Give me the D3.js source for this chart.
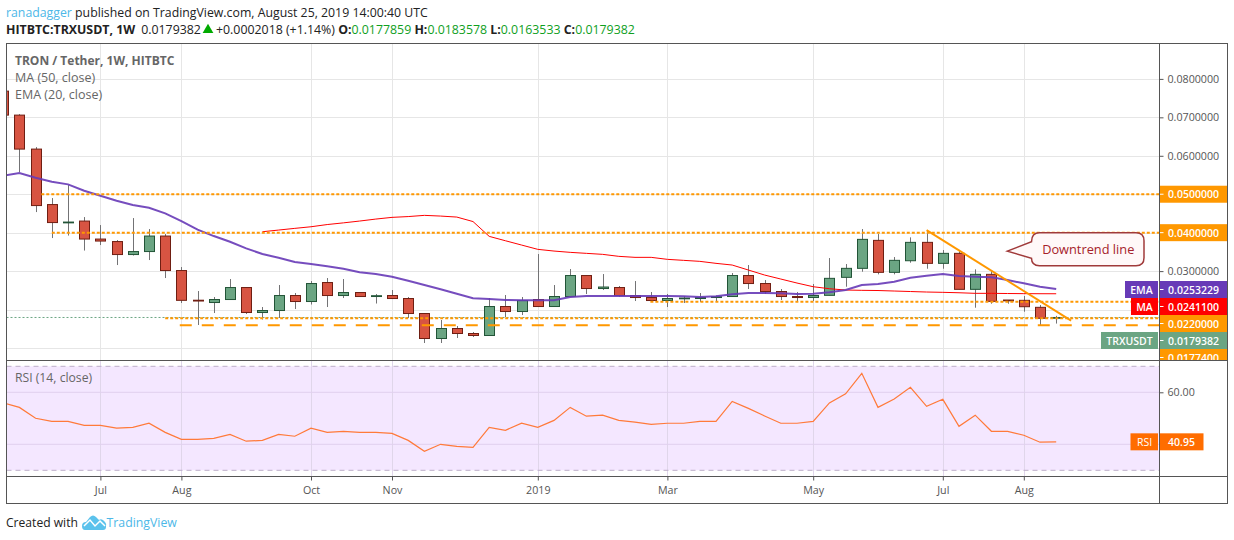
<!DOCTYPE html>
<html>
<head>
<meta charset="utf-8">
<script src="https://cdn.jsdelivr.net/npm/d3@7"></script>
<style>
  html, body { margin: 0; padding: 0; background: #fff; }
  svg { display: block; font-family: "Open Sans", "Noto Sans", sans-serif; }
  .axis path { display: none; }
  .axis line { stroke: #555; }
  .axis text { fill: #555; font-size: 10.7px; font-family: "Open Sans", sans-serif; }
</style>
</head>
<body>
<div id="chart"></div>
<script>
// weekly candles
const opens = [.07682,.07058,.06174,.04731,.04260,.04302,.03834,.03769,.03431,.03509,.03912,.03015,.02243,.02183,.02261,.02573,.01923,.01975,.02365,.02209,.02703,.02365,.02443,.02339,.02365,.02287,.01897,.01247,.01507,.01377,.01325,.02079,.01949,.02261,.02079,.02339,.02885,.02547,.02573,.02365,.02313,.02235,.02282,.02287,.02313,.02339,.02885,.02677,.02469,.02339,.02313,.02370,.02838,.03072,.03800,.02968,.03270,.03748,.03202,.03462,.02526,.02916,.02248,.02240,.02058,.0177859];
const highs = [.07682,.07084,.06226,.04900,.05238,.04406,.04198,.03808,.04380,.04094,.03964,.03106,.02482,.02326,.02794,.02573,.02066,.02638,.02430,.02742,.02820,.02794,.02443,.02404,.02508,.02326,.01910,.01728,.01572,.01416,.02300,.02378,.02326,.03444,.02638,.03054,.02885,.02924,.02612,.02742,.02456,.02404,.02352,.02430,.02365,.02950,.03158,.02768,.02534,.02456,.02664,.03340,.03184,.04094,.03964,.03366,.03878,.04068,.03548,.03548,.03046,.03002,.02248,.02352,.02118,.0183578];
const lows = [.07058,.05576,.04536,.03860,.03925,.03535,.03678,.03158,.03405,.03288,.02820,.02170,.01598,.01910,.02261,.01884,.01741,.01780,.02014,.02131,.02066,.02300,.02339,.02157,.02274,.01780,.01130,.01130,.01260,.01286,.01325,.01806,.01858,.02079,.02079,.02339,.02404,.02508,.02326,.02222,.02222,.02066,.02170,.02196,.02196,.02339,.02534,.02404,.02248,.02196,.02222,.02370,.02594,.02984,.02916,.02916,.03218,.03062,.03062,.02526,.02048,.02152,.02152,.01944,.01598,.0163533];
const closes = [.07058,.06174,.04705,.04263,.04276,.03834,.03782,.03431,.03509,.03912,.03015,.02240,.02222,.02261,.02573,.01923,.01975,.02365,.02209,.02677,.02365,.02443,.02339,.02360,.02287,.01897,.01247,.01507,.01377,.01325,.02079,.01949,.02235,.02079,.02339,.02885,.02547,.02586,.02365,.02313,.02235,.02287,.02300,.02313,.02334,.02885,.02677,.02469,.02339,.02313,.02365,.02812,.03072,.03826,.02968,.03280,.03748,.03202,.03462,.02526,.02916,.02214,.02230,.02074,.0177364,.0179382];

const emaValues = [.05485,.05550,.05428,.05324,.05256,.05090,.04960,.04830,.04718,.04648,.04502,.04302,.04081,.03912,.03764,.03592,.03444,.03348,.03236,.03184,.03124,.03062,.02968,.02924,.02854,.02750,.02638,.02526,.02412,.02292,.02274,.02248,.02240,.02240,.02240,.02326,.02352,.02352,.02352,.02352,.02352,.02352,.02344,.02326,.02344,.02396,.02430,.02430,.02422,.02404,.02410,.02448,.02508,.02638,.02664,.02724,.02828,.02880,.02924,.02872,.02854,.02838,.02768,.02682,.02594,.0253229];
const maValues = [null,null,null,null,null,null,null,null,null,null,null,null,null,null,null,null,.04024,.04068,.04112,.04154,.04211,.04255,.04302,.04354,.04398,.04419,.04450,.04432,.04406,.04289,.03904,.03790,.03678,.03566,.03522,.03488,.03462,.03436,.03384,.03358,.03358,.03306,.03280,.03254,.03202,.03158,.03028,.02898,.02794,.02690,.02594,.02542,.02508,.02500,.02495,.02482,.02469,.02456,.02448,.02437,.02422,.02422,.02417,.02414,.02412,.02411];
const rsiValues = [56,54.2,50,48.8,48.8,47.3,47.3,46.2,46.5,48.1,44.6,41.9,41.9,42.3,43.8,41.2,41.5,43.8,43.1,46.2,44.6,45,44.6,44.6,44.2,41.5,37.3,40,39.2,38.8,46.5,45.4,48.1,46.5,49.2,54.2,50.8,51.2,49.2,48.5,47.7,48.1,48.1,48.8,48.8,56.5,53.8,50.9,48.1,48.1,48.8,55.9,59.4,67.3,54.2,57.4,61.9,54.6,57.3,46.9,51.2,45,45,43.5,40.8,40.95];

const tickWeeks = [6, 11, 19, 24, 33, 41, 50, 58, 63];
const tickLabels = ["Jul", "Aug", "Oct", "Nov", "2019", "Mar", "May", "Jul", "Aug"];
const priceTicks = [0.08, 0.07, 0.06, 0.05, 0.04, 0.03];
const priceGrid = [0.08, 0.07, 0.06, 0.05, 0.04, 0.03, 0.02, 0.01];
const rsiTicks = [60, 40];

// drawn levels: value, first week
const levels = [[0.05, 2.35], [0.04, 3], [0.022, 39.95], [0.01774, 10]];
const dashedLevel = [0.0159, 10.9];
const trendLine = [[57, 0.04068], [65.92, 0.0171]];

const W = 1234, H = 540;
const paneL = 6.5, paneR = 1159.5, outerR = 1227.5, paneT = 43.5, split = 360.5, timeT = 476.5, paneB = 503.5;
const ORANGE = "#ff9800", GREEN = "#6ba583", RED = "#d75442", PURPLE = "#673ab7", RSI_C = "#ff6d00";

const svg = d3.select("#chart").append("svg").attr("width", W).attr("height", H);

const x = d3.scaleLinear().domain([0, 65]).range([3.2, 1056.2]);
const y = d3.scaleLinear().domain([0.01, 0.08]).range([348, 78.9]);
const rsiY = d3.scaleLinear().domain([40, 60]).range([444.3, 392.3]);

const defs = svg.append("defs");
defs.append("clipPath").attr("id", "priceClip").append("rect")
  .attr("x", paneL).attr("y", paneT).attr("width", paneR - paneL).attr("height", split - paneT);
defs.append("clipPath").attr("id", "rsiClip").append("rect")
  .attr("x", paneL).attr("y", split).attr("width", paneR - paneL).attr("height", timeT - split);
defs.append("clipPath").attr("id", "valClip").append("rect")
  .attr("x", paneR).attr("y", paneT).attr("width", outerR - paneR).attr("height", split - paneT);

// --- header ---
const head1 = svg.append("text").attr("x", 6).attr("y", 17).style("font-size", "12.3px").attr("fill", "#222");
head1.append("tspan").attr("fill", "#4db8e8").text("ranadagger");
head1.append("tspan").text(" published on TradingView.com, August 25, 2019 14:00:40 UTC");

const head2 = svg.append("text").attr("x", 6).attr("y", 34).style("font-size", "12.35px").attr("fill", "#222");
head2.append("tspan").style("font-weight", "bold").text("HITBTC:TRXUSDT, 1W");
head2.append("tspan").attr("dx", 6).text("0.0179382");

// up arrow between the price and the change
svg.append("path").attr("d", d3.symbol().type(d3.symbolTriangle).size(50))
  .attr("transform", "translate(208,30)").attr("fill", "#0a0");

const head3 = svg.append("text").attr("x", 216).attr("y", 34).style("font-size", "12.35px").attr("fill", "#222");
head3.append("tspan").text("+0.0002018 (+1.14%) ");
[["O:", "0.0177859"], ["H:", "0.0183578"], ["L:", "0.0163533"], ["C:", "0.0179382"]].forEach((p, i) => {
  head3.append("tspan").style("font-weight", "bold").text((i ? " " : "") + p[0]);
  head3.append("tspan").attr("fill", "#0fa01e").text(p[1]);
});

// --- rsi background ---
svg.append("rect").attr("x", paneL).attr("y", rsiY(70)).attr("width", paneR - paneL)
  .attr("height", rsiY(30) - rsiY(70)).attr("fill", "#f4e7ff");

// --- grid ---
svg.append("g").selectAll("line").data(priceGrid).enter().append("line")
  .attr("x1", paneL).attr("x2", paneR)
  .attr("y1", d => Math.round(y(d)) + 0.5).attr("y2", d => Math.round(y(d)) + 0.5)
  .attr("stroke", "#e6e6e6");
svg.append("g").selectAll("line").data(tickWeeks).enter().append("line")
  .attr("x1", d => Math.round(x(d)) + 0.5).attr("x2", d => Math.round(x(d)) + 0.5)
  .attr("y1", paneT).attr("y2", split).attr("stroke", "#e6e6e6");
svg.append("g").selectAll("line").data(tickWeeks).enter().append("line")
  .attr("x1", d => Math.round(x(d)) + 0.5).attr("x2", d => Math.round(x(d)) + 0.5)
  .attr("y1", split).attr("y2", timeT).attr("stroke", "#e0d6ea");
svg.append("g").selectAll("line").data(rsiTicks).enter().append("line")
  .attr("x1", paneL).attr("x2", paneR)
  .attr("y1", d => rsiY(d)).attr("y2", d => rsiY(d)).attr("stroke", "#e0d0ee");
svg.append("g").selectAll("line").data([70, 30]).enter().append("line")
  .attr("x1", paneL).attr("x2", paneR)
  .attr("y1", d => rsiY(d)).attr("y2", d => rsiY(d))
  .attr("stroke", "#bcaec8").attr("stroke-dasharray", "5,4");

// --- price pane ---
const pane = svg.append("g").attr("clip-path", "url(#priceClip)");

// last price line
pane.append("line").attr("x1", paneL).attr("x2", paneR)
  .attr("y1", y(closes[65])).attr("y2", y(closes[65]))
  .attr("stroke", GREEN).attr("stroke-dasharray", "2,2");

const weeks = d3.range(opens.length);

// wicks
pane.append("g").selectAll("line").data(weeks).enter().append("line")
  .attr("x1", d => Math.round(x(d)) + 0.5).attr("x2", d => Math.round(x(d)) + 0.5)
  .attr("y1", d => y(highs[d])).attr("y2", d => y(lows[d]))
  .attr("stroke", "#737375").attr("stroke-width", 1);

// bodies
pane.append("g").selectAll("rect").data(weeks).enter().append("rect")
  .attr("x", d => Math.round(x(d)) - 4.5)
  .attr("width", 10)
  .attr("y", d => Math.min(y(opens[d]), y(closes[d])))
  .attr("height", d => Math.max(0.8, Math.abs(y(opens[d]) - y(closes[d]))))
  .attr("fill", d => closes[d] >= opens[d] ? GREEN : RED)
  .attr("stroke", d => closes[d] >= opens[d] ? "#225437" : "#6f1e12")
  .attr("stroke-width", 1);

const lineGen = d3.line().defined(d => d[1] != null).x(d => x(d[0])).y(d => y(d[1]));

pane.append("path").datum(weeks.map(i => [i, maValues[i]]))
  .attr("d", lineGen).attr("fill", "none").attr("stroke", "#ff0000").attr("stroke-width", 1);
pane.append("path").datum(weeks.map(i => [i, emaValues[i]]))
  .attr("d", lineGen).attr("fill", "none").attr("stroke", PURPLE).attr("stroke-width", 2).attr("stroke-opacity", 0.9);

// orange levels
pane.append("g").selectAll("line").data(levels).enter().append("line")
  .attr("x1", d => x(d[1])).attr("x2", paneR)
  .attr("y1", d => y(d[0])).attr("y2", d => y(d[0]))
  .attr("stroke", ORANGE).attr("stroke-width", 2).attr("stroke-dasharray", "3,2");
pane.append("line").attr("x1", x(dashedLevel[1])).attr("x2", paneR)
  .attr("y1", y(dashedLevel[0])).attr("y2", y(dashedLevel[0]))
  .attr("stroke", ORANGE).attr("stroke-width", 2).attr("stroke-dasharray", "12,10");

// downtrend line
pane.append("path").datum(trendLine)
  .attr("d", lineGen).attr("fill", "none").attr("stroke", ORANGE).attr("stroke-width", 2);

// callout
const co = { l: 1031.5, r: 1144, t: 232.7, b: 265.7, rad: 8, tipX: x(61.8) + 3, tipY: y(0.0352) };
pane.append("path")
  .attr("d", `M${co.l + co.rad},${co.t} H${co.r - co.rad} Q${co.r},${co.t} ${co.r},${co.t + co.rad}
    V${co.b - co.rad} Q${co.r},${co.b} ${co.r - co.rad},${co.b} H${co.l + co.rad} Q${co.l},${co.b} ${co.l},${co.b - 7.4}
    L${co.tipX},${co.tipY} L${co.l},${co.t + 9} Q${co.l},${co.t} ${co.l + co.rad},${co.t} Z`)
  .attr("fill", "#fff8f8").attr("stroke", "#a03a3a").attr("stroke-width", 1.5);
pane.append("text").attr("x", (co.l + co.r) / 2 + 0.5).attr("y", 253.5)
  .attr("text-anchor", "middle").attr("fill", "#a5222a").style("font-size", "12.8px")
  .text("Downtrend line");

// pane legends
const legend = [["TRON / Tether, 1W, HITBTC", 65, true], ["MA (50, close)", 82, false], ["EMA (20, close)", 99, false]];
svg.append("g").selectAll("text").data(legend).enter().append("text")
  .attr("x", 15).attr("y", d => d[1]).attr("fill", "#666")
  .style("font-size", d => d[2] ? "12px" : "12.5px").style("font-weight", d => d[2] ? "bold" : "normal")
  .text(d => d[0]);
svg.append("text").attr("x", 15).attr("y", 382).attr("fill", "#666").style("font-size", "12.2px").text("RSI (14, close)");

// rsi line
svg.append("g").attr("clip-path", "url(#rsiClip)").append("path").datum(rsiValues)
  .attr("d", d3.line().x((d, i) => x(i)).y(d => rsiY(d)))
  .attr("fill", "none").attr("stroke", "#ff7a3a").attr("stroke-width", 1.2);

// --- axes ---
const axisR = d3.axisRight(y).tickValues(priceTicks).tickSize(4).tickPadding(4).tickFormat(d => d.toFixed(7));
svg.append("g").attr("class", "axis").attr("transform", `translate(${paneR},0)`).call(axisR);
const axisRsi = d3.axisRight(rsiY).tickValues([60]).tickSize(4).tickPadding(4).tickFormat(d => d.toFixed(2));
svg.append("g").attr("class", "axis").attr("transform", `translate(${paneR},0)`).call(axisRsi);
const axisB = d3.axisBottom(x).tickValues(tickWeeks).tickSize(4).tickPadding(6).tickFormat((d, i) => tickLabels[i]);
svg.append("g").attr("class", "axis").attr("transform", `translate(0,${timeT})`).call(axisB);

// --- right side value tags ---
const rowH = 17;
const tags = [
  { v: "0.0500000", c: ORANGE, at: y(0.05) },
  { v: "0.0400000", c: ORANGE, at: y(0.04) },
  { v: "0.0253229", c: PURPLE, at: 289.5, name: "EMA", w: 33 },
  { v: "0.0241100", c: "#ff0000", at: 289.5 + rowH, name: "MA", w: 27 },
  { v: "0.0220000", c: ORANGE, at: 289.5 + rowH * 2 },
  { v: "0.0179382", c: GREEN, at: 289.5 + rowH * 3, name: "TRXUSDT", w: 57 },
  { v: "0.0177400", c: ORANGE, at: 289.5 + rowH * 4 }
];
const tagG = svg.append("g").attr("clip-path", "url(#valClip)");
const nameG = svg.append("g");
tags.forEach(t => {
  tagG.append("rect").attr("x", paneR + 0.5).attr("y", t.at - rowH / 2)
    .attr("width", outerR - paneR).attr("height", rowH).attr("fill", t.c);
  tagG.append("text").attr("x", 1168).attr("y", t.at + 4).attr("fill", "#fff")
    .style("font-size", "10.5px").style("font-weight", "600").text(t.v);
  tagG.append("line").attr("x1", paneR).attr("x2", paneR + 4).attr("y1", t.at).attr("y2", t.at).attr("stroke", "#fff");
  if (t.name) {
    nameG.append("rect").attr("x", paneR - 1.5 - t.w).attr("y", t.at - rowH / 2)
      .attr("width", t.w).attr("height", rowH).attr("fill", t.c);
    nameG.append("text").attr("x", paneR - 1.5 - t.w / 2).attr("y", t.at + 4).attr("fill", "#fff")
      .attr("text-anchor", "middle").style("font-size", "10.5px").style("font-weight", "600").text(t.name);
  }
});

// rsi tag
const rsiAt = rsiY(rsiValues[65]);
svg.append("rect").attr("x", paneR - 29).attr("y", rsiAt - rowH / 2).attr("width", 27.5).attr("height", rowH).attr("fill", RSI_C);
svg.append("text").attr("x", paneR - 15).attr("y", rsiAt + 4).attr("text-anchor", "middle").attr("fill", "#fff").style("font-size", "10.5px").text("RSI");
svg.append("rect").attr("x", paneR + 0.5).attr("y", rsiAt - rowH / 2).attr("width", 43.5).attr("height", rowH).attr("fill", RSI_C);
svg.append("text").attr("x", 1168).attr("y", rsiAt + 4).attr("fill", "#fff").style("font-size", "10.5px").style("font-weight", "600").text("40.95");

// --- frame ---
const frame = svg.append("g").attr("stroke", "#555").attr("fill", "none");
frame.append("rect").attr("x", paneL).attr("y", paneT).attr("width", outerR - paneL).attr("height", paneB - paneT);
frame.append("line").attr("x1", paneR).attr("x2", paneR).attr("y1", paneT).attr("y2", paneB);
frame.append("line").attr("x1", paneL).attr("x2", outerR).attr("y1", split).attr("y2", split);
frame.append("line").attr("x1", paneL).attr("x2", outerR).attr("y1", timeT).attr("y2", timeT);

// --- footer ---
svg.append("text").attr("x", 6).attr("y", 527).attr("fill", "#222").style("font-size", "12.1px").text("Created with");
const logo = svg.append("g").attr("transform", "translate(82,514)");
logo.append("path")
  .attr("d", "M0,12 Q0,8 4,8 L8,3 Q11,0 14,3 L17,6 Q20,4 23,8 Q25,10 24,13 Q24,16 21,16 L3,16 Q0,16 0,12 Z")
  .attr("fill", "#5bc2ec");
logo.append("path").attr("d", "M2,12 L8,6 L13,12 L18,7 L23,12")
  .attr("fill", "none").attr("stroke", "#fff").attr("stroke-width", 1.5);
svg.append("text").attr("x", 106.5).attr("y", 527).attr("fill", "#4db8e8").style("font-size", "12.3px").text("TradingView");
</script>
</body>
</html>
